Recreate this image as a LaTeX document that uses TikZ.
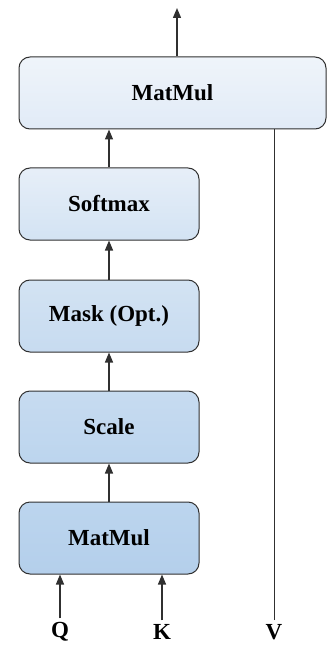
\documentclass[tikz,border=0pt]{standalone}
\usepackage{fontspec}
\setmainfont{Liberation Serif}
\usepackage{tikz}
\usetikzlibrary{arrows.meta}
\usepackage{xcolor}
\definecolor{boxline}{HTML}{303030}
\definecolor{fillA}{HTML}{EFF4FA}
\definecolor{fillB}{HTML}{E1EBF7}
\definecolor{fillC}{HTML}{D3E3F3}
\definecolor{fillD}{HTML}{C7DBF0}
\definecolor{fillE}{HTML}{BCD5EE}
\definecolor{fillF}{HTML}{B4CFEB}
\tikzstyle{arrow} = [line width=1.4pt,draw=boxline,-{Triangle[length=10pt,width=8pt]}]

\begin{document}
\begin{tikzpicture}
        [
            x=1pt, y=-1pt,
            box/.style={rectangle,rounded corners=11pt,draw=boxline,line width=1pt,
                minimum width=180pt,minimum height=72pt,
                font=\fontsize{23}{27}\selectfont\bfseries},
            lbl/.style={inner sep=4pt,font=\fontsize{23}{27}\selectfont\bfseries},
        ]
    \useasboundingbox (0,0) rectangle (327,647);

    \node[box,minimum width=307pt,top color=fillA,bottom color=fillB] (top) at (172.5,93){MatMul};
    \node[box,top color=fillB!60!fillA,bottom color=fillC] (soft) at (109,204){Softmax};
    \node[box,top color=fillC,bottom color=fillD] (mask) at (109,316){Mask (Opt.)};
    \node[box,top color=fillD,bottom color=fillE] (scale) at (109,427){Scale};
    \node[box,top color=fillE,bottom color=fillF] (mm) at (109,538){MatMul};

    \node[lbl] (q) at (60,632){Q};
    \node[lbl] (k) at (162,632){K};
    \node[lbl] (v) at (274,632){V};
    \coordinate (out) at (177,8);

    % connections
    \draw[arrow] (q.north) -- (q.north |- mm.south);
    \draw[arrow] (k.north) -- (k.north |- mm.south);
    \draw[arrow] (mm) -- (scale);
    \draw[arrow] (scale) -- (mask);
    \draw[arrow] (mask) -- (soft);
    \draw[arrow] (soft.north) -- (soft.north |- top.south);
    \draw[line width=1pt,draw=boxline] (v.north) -- (v.north |- top.south);
    \draw[arrow] (out |- top.north) -- (out);
    \end{tikzpicture}
\end{document}
